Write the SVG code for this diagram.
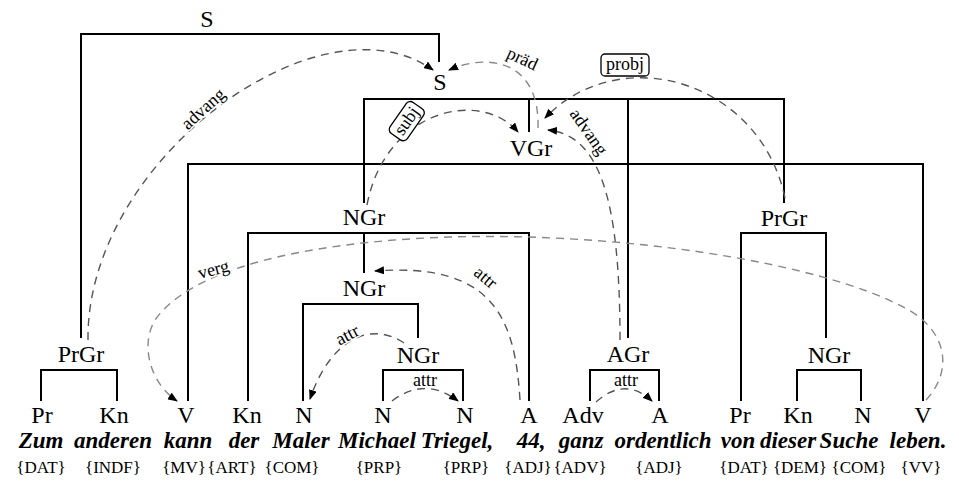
<svg xmlns="http://www.w3.org/2000/svg" width="959" height="484" viewBox="0 0 959 484">
<defs>
<marker id="ah" viewBox="0 0 10 8" refX="9" refY="4" markerWidth="10" markerHeight="8" markerUnits="userSpaceOnUse" orient="auto">
<path d="M0,0 L10,4 L0,8 z" fill="#000"/>
</marker>
<style>
.cat{font-family:"Liberation Serif","Times New Roman",serif;font-size:24px;fill:#000;text-anchor:middle}
.w{font-family:"Liberation Serif","Times New Roman",serif;font-size:23px;font-weight:bold;font-style:italic;fill:#000;text-anchor:middle}
.tag{font-family:"Liberation Serif","Times New Roman",serif;font-size:17px;fill:#000;text-anchor:middle}
.lbl{font-family:"Liberation Serif","Times New Roman",serif;font-size:18px;fill:#000;text-anchor:middle;stroke:#fff;stroke-width:3;paint-order:stroke}
.tree{fill:none;stroke:#000;stroke-width:2}
.arc{fill:none;stroke:#555;stroke-width:1.4;stroke-dasharray:8 6}
.lt{stroke:#888}
.box{fill:#fff;stroke:#000;stroke-width:1.3}
</style>
</defs>
<rect width="959" height="484" fill="#fff"/>
<g id="connectors">
<g id="tree-lines">
<path class="tree" d="M81 338 V34 H439 V62"/>
<path class="tree" d="M364 203 V99 H784 V203"/>
<path class="tree" d="M529 99 V132"/>
<path class="tree" d="M628 99 V338"/>
<path class="tree" d="M188 401 V164 H923 V401"/>
<path class="tree" d="M248 401 V233 H529 V401"/>
<path class="tree" d="M364 233 V273"/>
<path class="tree" d="M303 401 V304 H418 V338"/>
<path class="tree" d="M383 401 V370 H463 V401"/>
<path class="tree" d="M41 401 V370 H117 V401"/>
<path class="tree" d="M590 401 V370 H659 V401"/>
<path class="tree" d="M741 401 V233 H826 V338"/>
<path class="tree" d="M797 401 V370 H861 V401"/>
</g>
<g id="dependency-arcs">
<path class="arc" d="M88 340 C86 160, 320 -10, 433 70" marker-end="url(#ah)"/>
<path class="arc lt" d="M538 128 C540 62, 490 52, 449 70" marker-end="url(#ah)"/>
<path class="arc" d="M367 205 C385 110, 480 88, 518 132" marker-end="url(#ah)"/>
<path class="arc" d="M785 198 C760 80, 620 40, 545 118" marker-end="url(#ah)"/>
<path class="arc" d="M620 340 C620 200, 600 135, 548 130" marker-end="url(#ah)"/>
<path class="arc lt" d="M926 400 C954 370, 947 330, 905 308 C820 262, 620 232, 450 237 C300 242, 190 270, 155 320 C140 345, 150 383, 177 401" marker-end="url(#ah)"/>
<path class="arc" d="M520 400 C515 320, 495 262, 375 271" marker-end="url(#ah)"/>
<path class="arc" d="M404 343 C370 320, 330 340, 310 399" marker-end="url(#ah)"/>
<path class="arc" d="M392 401 Q425 376, 458 401" marker-end="url(#ah)"/>
<path class="arc" d="M596 402 Q625 376, 652 401" marker-end="url(#ah)"/>
</g>
<g id="arc-labels">
<text class="lbl" transform="translate(207,113) rotate(-42)">advang</text>
<text class="lbl" transform="translate(520,64) rotate(25)">präd</text>
<g transform="translate(408,122) rotate(-55)">
<rect class="box" x="-19" y="-12" width="38" height="21" rx="5"/>
<text class="lbl" x="0" y="4" style="stroke:none">subj</text>
</g>
<g transform="translate(625,66)">
<rect class="box" x="-24" y="-12" width="48" height="22" rx="4"/>
<text class="lbl" x="0" y="4" style="stroke:none">probj</text>
</g>
<text class="lbl" transform="translate(584,135) rotate(55)">advang</text>
<text class="lbl" transform="translate(215,275) rotate(-15)">verg</text>
<text class="lbl" transform="translate(482,282) rotate(40)">attr</text>
<text class="lbl" transform="translate(350,340) rotate(-28)">attr</text>
<text class="lbl" x="425" y="386">attr</text>
<text class="lbl" x="626" y="386">attr</text>
</g>
</g>
<g id="S-top"><text class="cat" x="207" y="27">S</text></g>
<g id="S"><text class="cat" x="440" y="90">S</text></g>
<g id="VGr"><text class="cat" x="531" y="156">VGr</text></g>
<g id="NGr-1"><text class="cat" x="364" y="225">NGr</text></g>
<g id="PrGr-2"><text class="cat" x="784" y="226">PrGr</text></g>
<g id="NGr-2"><text class="cat" x="364" y="296">NGr</text></g>
<g id="PrGr-1"><text class="cat" x="81" y="362">PrGr</text></g>
<g id="NGr-3"><text class="cat" x="418" y="363">NGr</text></g>
<g id="AGr"><text class="cat" x="628" y="362">AGr</text></g>
<g id="NGr-4"><text class="cat" x="829" y="363">NGr</text></g>
<g id="w1"><text class="cat" x="42" y="423">Pr</text><text class="w" x="41" y="448">Zum</text><text class="tag" x="41" y="473">{DAT}</text></g>
<g id="w2"><text class="cat" x="114" y="423">Kn</text><text class="w" x="113" y="448">anderen</text><text class="tag" x="113" y="473">{INDF}</text></g>
<g id="w3"><text class="cat" x="186" y="423">V</text><text class="w" x="188" y="448">kann</text><text class="tag" x="184" y="473">{MV}</text></g>
<g id="w4"><text class="cat" x="247" y="423">Kn</text><text class="w" x="244" y="448">der</text><text class="tag" x="232" y="473">{ART}</text></g>
<g id="w5"><text class="cat" x="304" y="423">N</text><text class="w" x="301" y="448">Maler</text><text class="tag" x="292" y="473">{COM}</text></g>
<g id="w6"><text class="cat" x="383" y="423">N</text><text class="w" x="377" y="448">Michael</text><text class="tag" x="379" y="473">{PRP}</text></g>
<g id="w7"><text class="cat" x="465" y="423">N</text><text class="w" x="457" y="448">Triegel,</text><text class="tag" x="466" y="473">{PRP}</text></g>
<g id="w8"><text class="cat" x="529" y="423">A</text><text class="w" x="531" y="448">44,</text><text class="tag" x="528" y="473">{ADJ}</text></g>
<g id="w9"><text class="cat" x="583" y="423">Adv</text><text class="w" x="581" y="448">ganz</text><text class="tag" x="580" y="473">{ADV}</text></g>
<g id="w10"><text class="cat" x="660" y="423">A</text><text class="w" x="663" y="448">ordentlich</text><text class="tag" x="659" y="473">{ADJ}</text></g>
<g id="w11"><text class="cat" x="740" y="423">Pr</text><text class="w" x="738" y="448">von</text><text class="tag" x="744" y="473">{DAT}</text></g>
<g id="w12"><text class="cat" x="798" y="423">Kn</text><text class="w" x="788" y="448">dieser</text><text class="tag" x="800" y="473">{DEM}</text></g>
<g id="w13"><text class="cat" x="863" y="423">N</text><text class="w" x="849" y="448">Suche</text><text class="tag" x="859" y="473">{COM}</text></g>
<g id="w14"><text class="cat" x="923" y="423">V</text><text class="w" x="918" y="448">leben.</text><text class="tag" x="921" y="473">{VV}</text></g>
</svg>
